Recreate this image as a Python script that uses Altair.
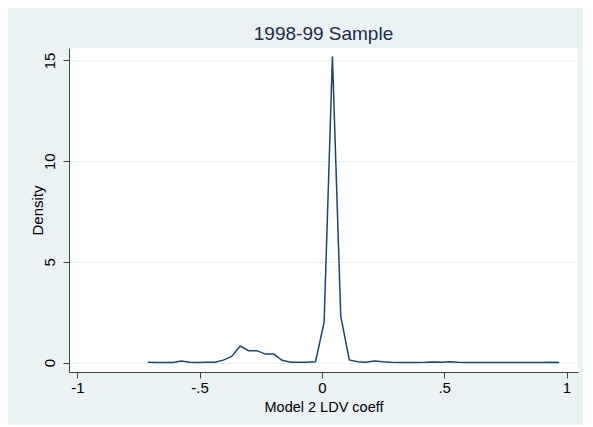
import altair as alt
import pandas as pd

# Density estimate evaluated on 50 points
coef = [-0.712, -0.678, -0.643, -0.609, -0.575, -0.540, -0.506, -0.472, -0.437, -0.403,
        -0.369, -0.334, -0.300, -0.266, -0.231, -0.197, -0.163, -0.128, -0.094, -0.060,
        -0.026, 0.009, 0.043, 0.077, 0.112, 0.146, 0.180, 0.215, 0.249, 0.283,
        0.318, 0.352, 0.386, 0.421, 0.455, 0.489, 0.524, 0.558, 0.592, 0.627,
        0.661, 0.695, 0.730, 0.764, 0.798, 0.833, 0.867, 0.901, 0.936, 0.970]
density = [0.01, 0.00, 0.00, 0.00, 0.07, 0.02, 0.00, 0.01, 0.02, 0.12,
           0.30, 0.82, 0.59, 0.59, 0.42, 0.42, 0.11, 0.01, 0.02, 0.02,
           0.04, 2.00, 15.20, 2.30, 0.13, 0.04, 0.02, 0.08, 0.04, 0.01,
           0.00, 0.00, 0.00, 0.01, 0.03, 0.01, 0.04, 0.01, 0.00, 0.00,
           0.00, 0.00, 0.00, 0.00, 0.00, 0.00, 0.00, 0.00, 0.01, 0.00]

x_ticks = [-1, -0.5, 0, 0.5, 1]
x_tick_labels = ["-1", "-.5", "0", ".5", "1"]
y_ticks = [0, 5, 10, 15]

df = pd.DataFrame({"coef": coef, "density": density})

label_expr = " : ".join(
    f"datum.value == {v} ? '{l}'" for v, l in zip(x_ticks, x_tick_labels)
) + " : ''"

FONT = "Liberation Sans, Arial, Helvetica, sans-serif"

chart = alt.Chart(df).mark_line(color="#1a476f", strokeWidth=1.5).encode(
    x=alt.X("coef:Q",
            scale=alt.Scale(domain=[-1.034, 1.047], nice=False, zero=False),
            axis=alt.Axis(values=x_ticks, labelExpr=label_expr, title="Model 2 LDV coeff",
                          grid=False, tickSize=6, labelPadding=2,
                          titleY=35, titleBaseline="middle", titleFontSize=14.5)),
    y=alt.Y("density:Q",
            scale=alt.Scale(domain=[-0.47, 15.62], nice=False, zero=False),
            axis=alt.Axis(values=y_ticks, title="Density", grid=True,
                          tickSize=6, labelAngle=270, labelAlign="center",
                          labelBaseline="alphabetic", labelPadding=9,
                          titleX=-32, titleY=162, titleAngle=270,
                          titleAlign="center", titleBaseline="middle")),
).properties(
    width=509,
    height=324,
    title=alt.TitleParams("1998-99 Sample", fontSize=19, font=FONT,
                          color="#1e2a4a", fontWeight="normal", offset=4),
    autosize=alt.AutoSizeParams(type="none"),
    padding={"left": 61, "top": 40, "right": 5, "bottom": 53},
    background="#eaf2f3",
).configure_view(
    fill="white", stroke=None
).configure_axis(
    labelFont=FONT, titleFont=FONT, labelFontSize=15, titleFontSize=15,
    labelColor="black", titleColor="black", titleFontWeight="normal",
    domainColor="#444444", tickColor="#444444", domainWidth=1, tickWidth=1,
    gridColor="#eaf2f3", gridWidth=1,
)

chart.save("out.html", embed_options={"renderer": "svg", "actions": False})
